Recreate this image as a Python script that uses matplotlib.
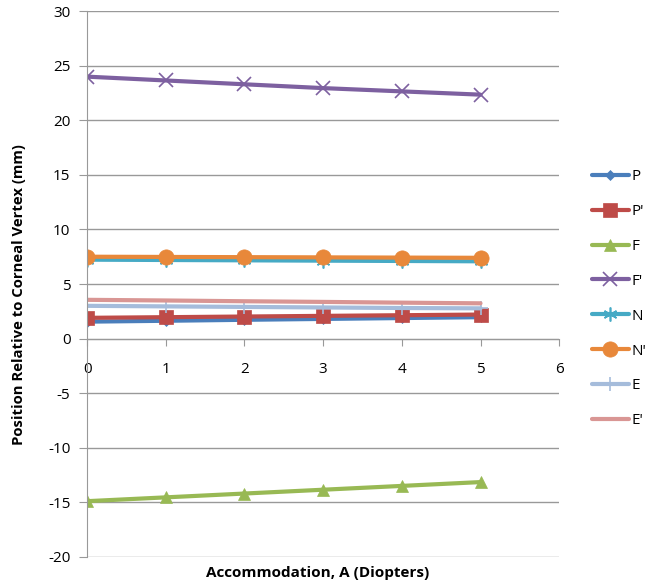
import matplotlib
matplotlib.use("Agg")
import matplotlib.pyplot as plt

accommodation = [0, 1, 2, 3, 4, 5]

P = [1.55, 1.63, 1.72, 1.80, 1.88, 1.96]
P_prime = [1.9, 1.96, 2.02, 2.08, 2.14, 2.2]
F = [-14.9, -14.55, -14.2, -13.85, -13.5, -13.15]
F_prime = [24.0, 23.65, 23.3, 22.95, 22.65, 22.35]
N = [7.23, 7.2, 7.17, 7.14, 7.11, 7.08]
N_prime = [7.5, 7.48, 7.46, 7.44, 7.42, 7.4]
E = [3.0, 2.95, 2.9, 2.85, 2.8, 2.77]
E_prime = [3.55, 3.49, 3.42, 3.36, 3.29, 3.23]

labels = ["P", "P'", "F", "F'", "N", "N'", "E", "E'"]
series = [P, P_prime, F, F_prime, N, N_prime, E, E_prime]
colors = ['#4A7EBB', '#BE4B48', '#98B954', '#7D60A0', '#46AAC5', '#E8883A', '#A5BCDB', '#D99694']
markers = ['D', 's', '^', 'x', (6, 2, 0), 'o', '+', None]
msizes = [5, 10, 9, 10, 10, 11, 10, 0]

plt.rcParams['font.family'] = ['Open Sans', 'DejaVu Sans']
plt.rcParams['axes.unicode_minus'] = False

fig = plt.figure(figsize=(6.45, 5.88), dpi=100)
ax = fig.add_axes([0.135, 0.053, 0.732, 0.928])

for y, lab, c, m, ms in zip(series, labels, colors, markers, msizes):
    ax.plot(accommodation, y, color=c, lw=3, marker=m, markersize=ms,
            markeredgewidth=1.2 if m in ('x', '+', (6, 2, 0)) else 0.5,
            markeredgecolor=c, label=lab, solid_capstyle='round')

ax.set_xlim(0, 6)
ax.set_ylim(-20, 30)
ax.set_yticks(range(-20, 31, 5))
ax.set_xticks(range(0, 7))
ax.yaxis.grid(True, color='#999999', lw=1)
ax.set_axisbelow(True)

ax.spines['bottom'].set_position(('data', 0))
ax.spines['bottom'].set_color('#999999')
ax.spines['left'].set_color('#999999')
ax.spines['top'].set_visible(False)
ax.spines['right'].set_visible(False)
ax.tick_params(axis='y', direction='out', length=6, color='#999999', labelsize=11, pad=6)
ax.tick_params(axis='x', direction='out', length=5, color='#999999', labelsize=11, pad=12)

ax.set_ylabel('Position Relative to Corneal Vertex (mm)', fontweight='bold', fontsize=10.7)
ax.yaxis.set_label_coords(-0.13, 0.48)
fig.text(0.492, 0.026, 'Accommodation, A (Diopters)', fontweight='bold', fontsize=11,
         ha='center', va='center')

ax.legend(loc='center left', bbox_to_anchor=(1.04, 0.473), frameon=False,
          fontsize=11, handlelength=2.4, handletextpad=0.2, labelspacing=1.3)

fig.savefig('out.png', dpi=100)
